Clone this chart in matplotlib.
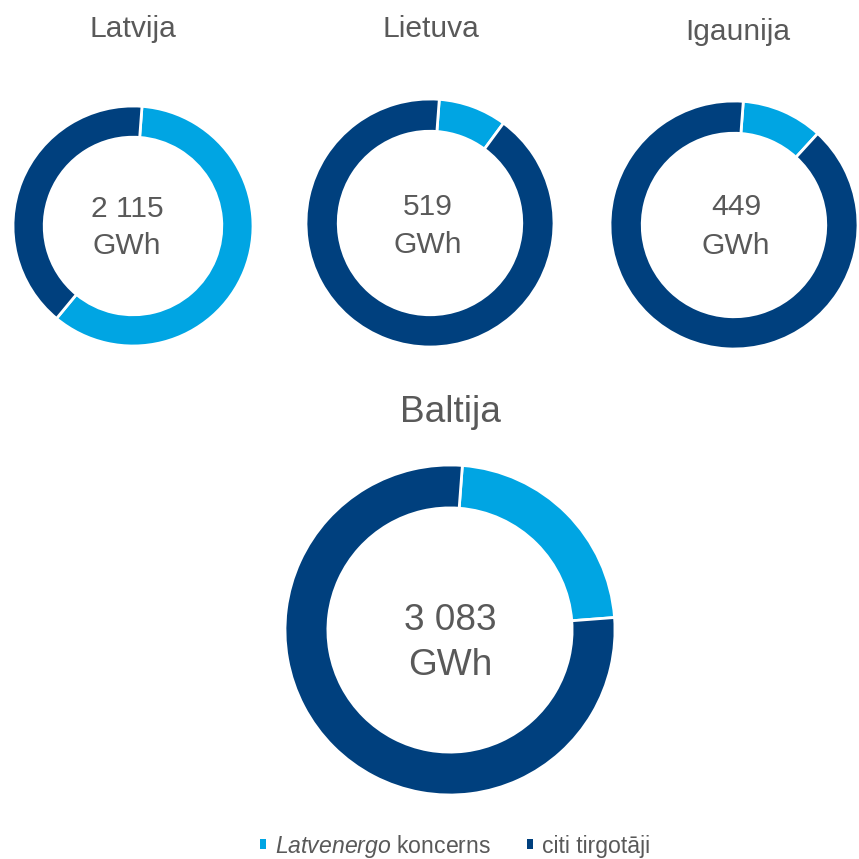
import matplotlib.pyplot as plt

plt.rcParams['font.family'] = ['Liberation Sans', 'DejaVu Sans']
plt.rcParams['mathtext.fontset'] = 'custom'
plt.rcParams['mathtext.rm'] = 'Liberation Sans'
plt.rcParams['mathtext.it'] = 'Liberation Sans:italic'

regions = ['Latvija', 'Lietuva', 'Igaunija', 'Baltija']
totals = ['2 115', '519', '449', '3 083']
latvenergo = [59.8, 8.9, 10.6, 22.6]
others = [40.2, 91.1, 89.4, 77.4]
legend_labels = [r'$\it{Latvenergo}$ koncerns', 'citi tirgotāji']

light = '#00A5E3'
dark = '#00407E'
grey = '#595959'

W = H = 859
fig = plt.figure(figsize=(W / 100, H / 100), dpi=100)

# layout in pixels: ring centre, radius, title baseline, label baselines, font px
layout = [
    dict(c=(133, 226), r=120, tx=133, ty=37, lx=127, ly=(217, 254), fs=30, tfs=30),
    dict(c=(430, 223), r=124, tx=431, ty=37, lx=428, ly=(215, 253), fs=30, tfs=30),
    dict(c=(734, 225), r=124, tx=738, ty=40, lx=736, ly=(215, 254), fs=30, tfs=30),
    dict(c=(450, 630), r=165, tx=450, ty=422, lx=450, ly=(630, 675), fs=37, tfs=37),
]

px2pt = 72 / 100
wedges = None
for name, tot, a, b, L in zip(regions, totals, latvenergo, others, layout):
    cx, cy = L['c']
    r = L['r']
    ax = fig.add_axes([(cx - r) / W, (H - cy - r) / H, 2 * r / W, 2 * r / H])
    w, _ = ax.pie([a, b], colors=[light, dark], startangle=90 - 4.3,
                  counterclock=False, radius=1,
                  wedgeprops=dict(width=0.26, edgecolor='white', linewidth=2))
    ax.set_xlim(-1, 1)
    ax.set_ylim(-1, 1)
    ax.set_aspect('equal')
    ax.axis('off')
    wedges = w
    fig.text(L['tx'] / W, 1 - L['ty'] / H, name, ha='center', va='baseline',
             fontsize=L['tfs'] * px2pt, color=grey)
    fig.text(L['lx'] / W, 1 - L['ly'][0] / H, tot, ha='center', va='baseline',
             fontsize=L['fs'] * px2pt, color=grey)
    fig.text(L['lx'] / W, 1 - L['ly'][1] / H, 'GWh', ha='center', va='baseline',
             fontsize=L['fs'] * px2pt, color=grey)

leg = fig.legend(wedges, legend_labels, loc='center', bbox_to_anchor=(455 / W, 13 / H),
                 ncol=2, frameon=False, fontsize=23 * px2pt,
                 handlelength=0.28, handleheight=0.28, handletextpad=0.4,
                 columnspacing=1.55, borderpad=0)
for t in leg.get_texts():
    t.set_color(grey)
for h in leg.legend_handles:
    h.set_edgecolor('none')

fig.savefig('out.png', dpi=100)
